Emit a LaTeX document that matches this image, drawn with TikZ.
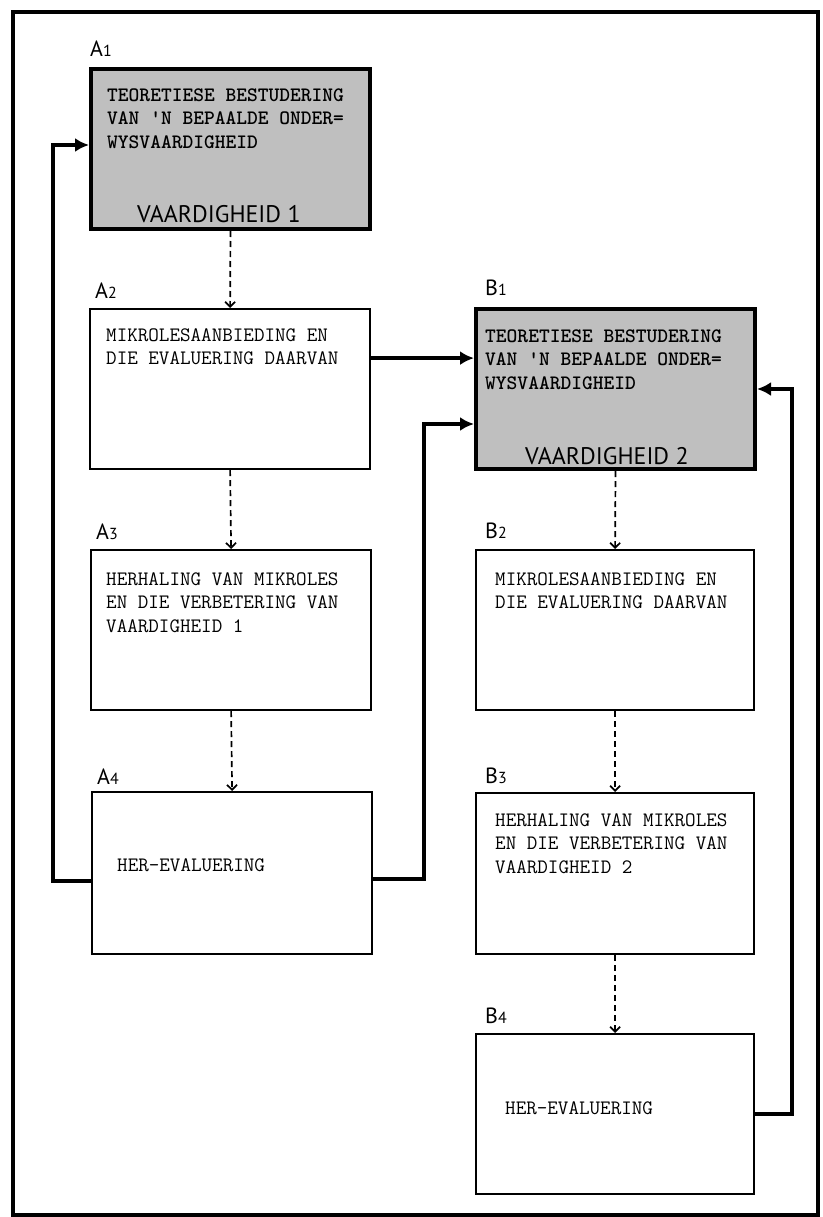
\documentclass[tikz,border=0pt]{standalone}
\usepackage{fontspec}
\usetikzlibrary{arrows.meta, positioning}
\newfontfamily\labelsans{PT Sans}
\newcommand{\stagenr}[2]{{\labelsans\fontsize{22}{22}\selectfont #1{\fontsize{16}{16}\selectfont #2}}}

\begin{document}
\begin{tikzpicture}[x=1pt, y=-1pt,
  stage/.style={draw, line width=2.2pt, minimum width=280pt, minimum height=160pt, inner sep=0pt, anchor=north west},
  theory/.style={stage, fill=black!25, line width=4pt, minimum width=279pt},
  boxtext/.style={anchor=north west, align=left, inner sep=0pt, font=\ttfamily\fontsize{20.5}{23.3}\selectfont},
  skill/.style={anchor=west, inner sep=0pt, font=\labelsans\fontsize{24}{24}\selectfont},
  stagelabel/.style={anchor=base west, inner sep=0pt},
  nextstep/.style={dash pattern=on 6pt off 4pt, line width=1.7pt, -{Straight Barb[length=5pt, width=10pt]}},
  feed/.style={line width=3.5pt, -{Latex[length=14pt, width=14pt]}}]
  \useasboundingbox (0,0) rectangle (822,1217);
  \draw[line width=4pt] (13,12) rectangle (818,1215);

  % kolom A: vaardigheid 1
  \node[theory] (A1) at (89,67) {};
  \node[stage] (A2) at (89,308) {};
  \node[stage] (A3) at (90,549) {};
  \node[stage, minimum height=162pt] (A4) at (91,791) {};
  % kolom B: vaardigheid 2
  \node[theory] (B1) at (474,307) {};
  \node[stage, minimum width=278pt] (B2) at (475,549) {};
  \node[stage, minimum width=278pt, minimum height=161pt] (B3) at (475,792) {};
  \node[stage, minimum width=278pt] (B4) at (475,1033) {};

  \node[stagelabel] (A1n) at ([shift={(1pt,10pt)}]A1.north west) {\stagenr{A}{1}};
  \node[stagelabel] (A2n) at ([shift={(6pt,10pt)}]A2.north west) {\stagenr{A}{2}};
  \node[stagelabel] (A3n) at ([shift={(6pt,10pt)}]A3.north west) {\stagenr{A}{3}};
  \node[stagelabel] (A4n) at ([shift={(6pt,7pt)}]A4.north west) {\stagenr{A}{4}};
  \node[stagelabel] (B1n) at ([shift={(11pt,12pt)}]B1.north west) {\stagenr{B}{1}};
  \node[stagelabel] (B2n) at ([shift={(10pt,11pt)}]B2.north west) {\stagenr{B}{2}};
  \node[stagelabel] (B3n) at ([shift={(10pt,9pt)}]B3.north west) {\stagenr{B}{3}};
  \node[stagelabel] (B4n) at ([shift={(10pt,10pt)}]B4.north west) {\stagenr{B}{4}};

  \node[boxtext, font=\ttfamily\bfseries\fontsize{20.5}{23.3}\selectfont] (A1t) at ([shift={(18pt,-21.5pt)}]A1.north west)
    {TEORETIESE BESTUDERING\\VAN 'N BEPAALDE ONDER=\\WYSVAARDIGHEID};
  \node[skill] (A1s) at ([shift={(48pt,17pt)}]A1.south west) {VAARDIGHEID 1};
  \node[boxtext] (A2t) at ([shift={(17pt,-20.5pt)}]A2.north west)
    {MIKROLESAANBIEDING EN\\DIE EVALUERING DAARVAN};
  \node[boxtext] (A3t) at ([shift={(16pt,-23.5pt)}]A3.north west)
    {HERHALING VAN MIKROLES\\EN DIE VERBETERING VAN\\VAARDIGHEID 1};
  \node[boxtext] (A4t) at ([shift={(26pt,-67.5pt)}]A4.north west) {HER-EVALUERING};

  \node[boxtext, font=\ttfamily\bfseries\fontsize{20.5}{23.3}\selectfont] (B1t) at ([shift={(11pt,-22.5pt)}]B1.north west)
    {TEORETIESE BESTUDERING\\VAN 'N BEPAALDE ONDER=\\WYSVAARDIGHEID};
  \node[skill] (B1s) at ([shift={(51pt,15pt)}]B1.south west) {VAARDIGHEID 2};
  \node[boxtext] (B2t) at ([shift={(20pt,-23.5pt)}]B2.north west)
    {MIKROLESAANBIEDING EN\\DIE EVALUERING DAARVAN};
  \node[boxtext] (B3t) at ([shift={(20pt,-21.5pt)}]B3.north west)
    {HERHALING VAN MIKROLES\\EN DIE VERBETERING VAN\\VAARDIGHEID 2};
  \node[boxtext] (B4t) at ([shift={(30pt,-68.5pt)}]B4.north west) {HER-EVALUERING};

  % stappe binne een kolom
  \foreach \from/\to in {A1/A2,A2/A3,A3/A4,B1/B2,B2/B3,B3/B4} {
    \draw[nextstep] (\from.south) -- (\to.north);
  }
  % terugvoer en oorgang na die volgende vaardigheid
  \draw[feed] ([yshift=31pt]A2.east) -- ([yshift=31pt]A2.east -| B1.west);
  \draw[feed] ([yshift=-6pt]A4.east) -| ([xshift=-50pt,yshift=-35pt]B1.west) -- ([yshift=-35pt]B1.west);
  \draw[feed] ([yshift=-8pt]A4.west) -| ([xshift=-36pt,yshift=4pt]A1.west) -- ([yshift=4pt]A1.west);
  \draw[feed] (B4.east) -| ([xshift=35pt]B1.east) -- (B1.east);
\end{tikzpicture}
\end{document}
